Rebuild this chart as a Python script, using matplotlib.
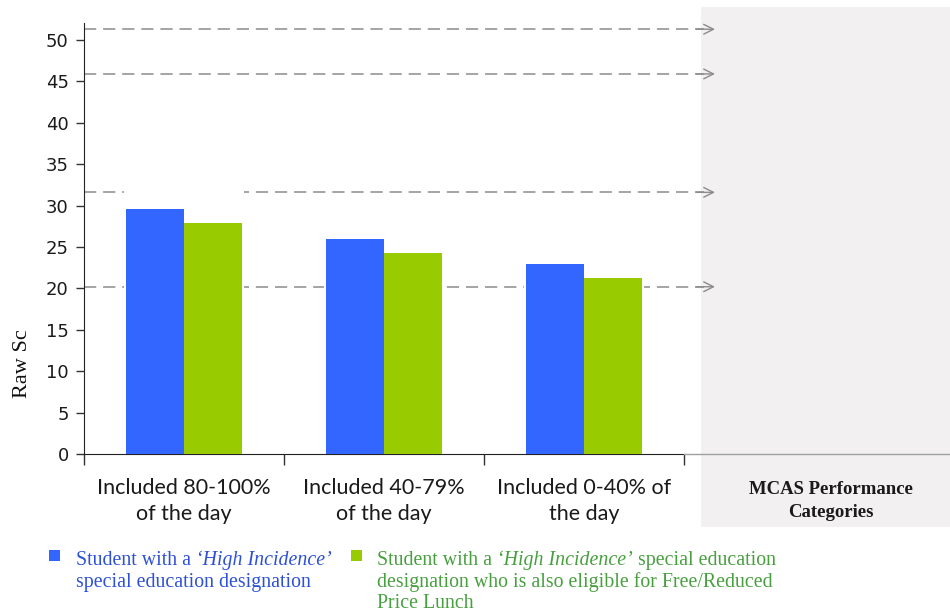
import matplotlib
matplotlib.use("Agg")
import matplotlib.pyplot as plt
from matplotlib.patches import Rectangle
import numpy as np

# data
categories = ["Included 80-100%\nof the day", "Included 40-79%\nof the day", "Included 0-40% of\nthe day"]
high_incidence = [29.6, 26.0, 22.9]
high_incidence_frl = [27.9, 24.3, 21.3]
thresholds = [51.3, 45.9, 31.6, 20.2]
yticks = list(range(0, 51, 5))

blue = "#3366FF"
green = "#99CC00"
blue_txt = "#2E50D6"
green_txt = "#47A03E"
dash_col = "#8C8C8C"

fig = plt.figure(figsize=(9.5, 6.14), dpi=100)
fig.patch.set_facecolor("white")

# grey panel on the right (behind the axes)
fig.patches.append(Rectangle((0.738, 0.1417), 0.262, 0.847, transform=fig.transFigure,
                             facecolor="#F2F0F1", edgecolor="none", zorder=-5))

ax = fig.add_axes([0.0884, 0.2606, 0.6316, 0.7019])
ax.set_facecolor("none")

x = np.arange(len(categories))
w = 0.29
ax.bar(x - w / 2, high_incidence, w, color=blue, zorder=3)
ax.bar(x + w / 2, high_incidence_frl, w, color=green, zorder=3)

# dashed reference lines with arrows into the panel
for t in thresholds:
    ax.plot([-0.5, 2.6], [t, t], ls=(0, (8, 4.5)), color=dash_col, lw=1.1, clip_on=False, zorder=1)
    ax.annotate("", xy=(2.655, t), xytext=(2.56, t), xycoords="data",
                arrowprops=dict(arrowstyle="->,head_length=0.7,head_width=0.35",
                                color=dash_col, lw=1.0, shrinkA=0, shrinkB=0),
                annotation_clip=False)

# white boxes behind each bar group (hide dashes)
for i in range(len(categories)):
    top = max(high_incidence[i], high_incidence_frl[i]) + 2.5
    ax.add_patch(Rectangle((x[i] - 0.3, 0), 0.6, top, facecolor="white",
                           edgecolor="none", zorder=2))

ax.set_xlim(-0.5, 2.5)
ax.set_ylim(0, 52.05)
ax.set_yticks(yticks)
ax.set_yticklabels([str(v) for v in yticks], fontsize=13, color="#1a1a1a", family="DejaVu Sans")
ax.tick_params(axis="y", length=6, width=1, pad=5, color="#333333")
ax.set_xticks([-0.5, 0.5, 1.5, 2.5])
ax.set_xticklabels([])
ax.tick_params(axis="x", length=8, width=1, direction="out", color="#333333")
for xi, lab in zip(x, categories):
    ax.text(xi, -2.9, lab, ha="center", va="top", fontsize=15.5, family="Lato",
            color="#1a1a1a", linespacing=1.35)
for s in ["top", "right"]:
    ax.spines[s].set_visible(False)
ax.spines["left"].set_color("#222222")
ax.spines["bottom"].set_color("#222222")

# grey continuation of the x axis
fig.add_artist(plt.Line2D([0.72, 1.0], [0.2606, 0.2606], color="#A0A0A0", lw=1))

fig.text(0.024, 0.407, "Raw Sc", rotation=90, ha="center", va="center",
         fontsize=16, family="Liberation Serif", color="#111111")

fig.text(0.875, 0.184, "MCAS Performance\nCategories", ha="center", va="center",
         fontsize=13.5, family="Liberation Serif", weight="bold", color="#1a1a1a",
         linespacing=1.4)

# legend
fig.patches.append(Rectangle((49 / 950, 1 - 561 / 614), 11 / 950, 11 / 614,
                             transform=fig.transFigure, facecolor=blue, edgecolor="none"))
fig.patches.append(Rectangle((351 / 950, 1 - 561 / 614), 11 / 950, 11 / 614,
                             transform=fig.transFigure, facecolor=green, edgecolor="none"))

lfont = dict(fontsize=14.3, family="Liberation Serif")


def concat(xf, yf, parts, color):
    t = fig.text(xf, yf, parts[0][0], color=color, style=parts[0][1], va="bottom", **lfont)
    for txt, style in parts[1:]:
        t = plt.annotate(txt, xy=(1, 0), xycoords=t, va="bottom", color=color,
                         style=style, **lfont)
    return t


y1 = 1 - 570 / 614
dy = 21.5 / 614
concat(76 / 950, y1, [("Student with a ", "normal"), ("\u2018High Incidence\u2019", "italic")], blue_txt)
fig.text(76 / 950, y1 - dy, "special education designation", color=blue_txt, va="bottom", **lfont)

concat(377 / 950, y1, [("Student with a ", "normal"), ("\u2018High Incidence\u2019", "italic"),
                       (" special education", "normal")], green_txt)
fig.text(377 / 950, y1 - dy, "designation who is also eligible for Free/Reduced",
         color=green_txt, va="bottom", **lfont)
fig.text(377 / 950, y1 - 2 * dy, "Price Lunch", color=green_txt, va="bottom", **lfont)

fig.savefig("out.png", dpi=100)
